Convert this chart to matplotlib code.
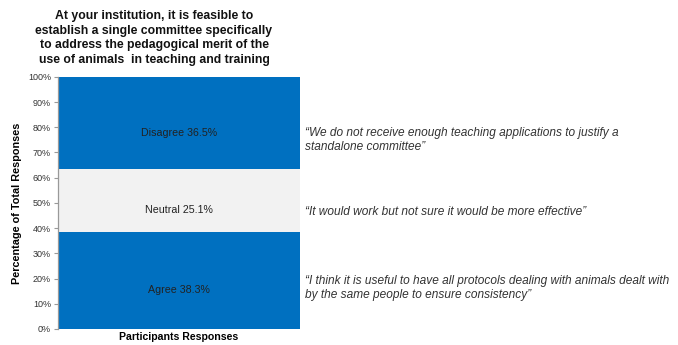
import matplotlib.pyplot as plt

plt.rcParams['font.family'] = ['Liberation Sans', 'DejaVu Sans']

category = ['Participants Responses']
responses = ['Agree', 'Neutral', 'Disagree']
shares = [38.3, 25.1, 36.5]
colors = ['#0070C0', '#F2F2F2', '#0070C0']
quotes = [
    '\u201cI think it is useful to have all protocols dealing with animals dealt with\nby the same people to ensure consistency\u201d',
    '\u201cIt would work but not sure it would be more effective\u201d',
    '\u201cWe do not receive enough teaching applications to justify a\nstandalone committee\u201d',
]
title = ('At your institution, it is feasible to\nestablish a single committee specifically\n'
         'to address the pedagogical merit of the\nuse of animals  in teaching and training')

fig = plt.figure(figsize=(6.78, 3.45), dpi=100)
ax = fig.add_axes([0.0855, 0.0464, 0.357, 0.731])

bottom = 0
for name, val, col in zip(responses, shares, colors):
    ax.bar(category, val, bottom=bottom, width=1.0, color=col, edgecolor='none')
    ax.annotate(f'{name} {val}%', (0, bottom + val / 2), xytext=(0, -7),
                textcoords='offset points', ha='center', va='center',
                fontsize=7.7, color='#222222')
    bottom += val

ax.set_xlim(-0.5, 0.5)
ax.set_ylim(0, 100)
ax.set_yticks(range(0, 101, 10))
ax.set_yticklabels([f'{v}%' for v in range(0, 101, 10)], fontsize=6.5, color='#333333')
ax.set_xticks([])
ax.set_xlabel('Participants Responses', fontsize=7.6, fontweight='bold', labelpad=2)
ax.set_ylabel('Percentage of Total Responses', fontsize=7.8, fontweight='bold', labelpad=4)
ax.tick_params(axis='y', length=3, width=0.8, color='#999999', pad=2)
for s in ['top', 'right', 'bottom']:
    ax.spines[s].set_visible(False)
ax.spines['left'].set_color('#999999')
ax.spines['left'].set_linewidth(0.9)

# quotes sit beside each section of the bar
quote_y = [288, 212, 140]
for q, y in zip(quotes, quote_y):
    fig.text(305 / 678, 1 - y / 345, q, ha='left', va='center', fontsize=8.6,
             style='italic', color='#333333', linespacing=1.3)

fig.text(154 / 678, 1 - 38 / 345, title, ha='center', va='center', fontsize=8.8,
         fontweight='bold', color='#111111', linespacing=1.3)

fig.savefig('out.png', dpi=100)
